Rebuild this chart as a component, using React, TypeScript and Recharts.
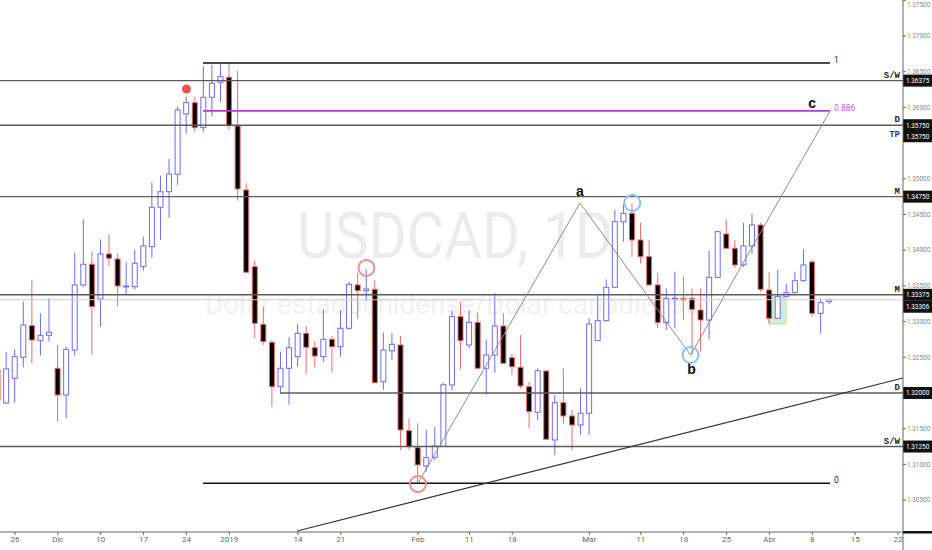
import React from "react";
import {
  ComposedChart,
  Bar,
  XAxis,
  YAxis,
  ReferenceLine,
  ReferenceDot,
  ReferenceArea,
} from "recharts";

// USDCAD daily candles, first candle sits two sessions before Nov 26 (index -2)
const FIRST_INDEX = -2;

const opens = [
  1.32322, 1.3186, 1.32206, 1.325, 1.32943, 1.32733, 1.32808, 1.32346, 1.31972, 1.32602,
  1.33513, 1.33803, 1.33317, 1.33947, 1.33877, 1.33489, 1.33489, 1.33769, 1.34049, 1.34601,
  1.34819, 1.35063, 1.35908, 1.36066, 1.35716, 1.36142, 1.36352, 1.36422, 1.3574, 1.34843,
  1.33769, 1.32962, 1.3271, 1.32088, 1.32346, 1.32508, 1.32836, 1.32634, 1.32508, 1.32752,
  1.32648, 1.32906, 1.33513, 1.33433, 1.33452, 1.32158, 1.32592, 1.32672, 1.31472, 1.31234,
  1.30978, 1.31099, 1.31253, 1.32112, 1.33069, 1.32672, 1.3299, 1.32346, 1.32532, 1.32938,
  1.32494, 1.3236, 1.32088, 1.3173, 1.32308, 1.31342, 1.31864, 1.31678, 1.31552, 1.31716,
  1.32733, 1.33013, 1.3348, 1.34399, 1.34517, 1.34143, 1.33909, 1.33513, 1.32985, 1.33317,
  1.33326, 1.33326, 1.33162, 1.33022, 1.3362, 1.34227, 1.34027, 1.33793, 1.34059, 1.34353,
  1.33443, 1.33046, 1.33349, 1.33405, 1.33573, 1.33835, 1.33116, 1.33279,
];
const highs = [
  1.3235, 1.32574, 1.32612, 1.33279, 1.33583, 1.33116, 1.33326, 1.32672, 1.32648, 1.33965,
  1.34433, 1.33979, 1.34153, 1.34227, 1.33947, 1.33831, 1.34003, 1.34189, 1.34951, 1.35043,
  1.35277, 1.3601, 1.3615, 1.3615, 1.3658, 1.36594, 1.36604, 1.36622, 1.36514, 1.34937,
  1.33863, 1.33209, 1.32742, 1.32578, 1.3278, 1.32966, 1.32938, 1.32719, 1.33172, 1.32798,
  1.33162, 1.33559, 1.33685, 1.33733, 1.33583, 1.32845, 1.32836, 1.32798, 1.31646, 1.31576,
  1.31482, 1.31528, 1.32144, 1.33153, 1.33279, 1.33162, 1.33125, 1.32742, 1.33396, 1.33116,
  1.32546, 1.32812, 1.32158, 1.32346, 1.32322, 1.31972, 1.32346, 1.31762, 1.32066, 1.33046,
  1.33373, 1.33592, 1.34563, 1.34647, 1.34657, 1.34385, 1.34143, 1.33685, 1.33466, 1.33699,
  1.33629, 1.33466, 1.33466, 1.33993, 1.34273, 1.34433, 1.34143, 1.34385, 1.34507, 1.34385,
  1.33685, 1.33723, 1.33527, 1.33699, 1.34013, 1.33863, 1.33326, 1.33326,
];
const lows = [
  1.3186, 1.31846, 1.31864, 1.3236, 1.32416, 1.32528, 1.32719, 1.31598, 1.31646, 1.32522,
  1.33485, 1.32532, 1.32929, 1.33779, 1.33219, 1.33373, 1.33452, 1.33713, 1.33895, 1.34143,
  1.34455, 1.34913, 1.35628, 1.3566, 1.35651, 1.3587, 1.3608, 1.35684, 1.34693, 1.3368,
  1.32766, 1.32672, 1.31808, 1.31996, 1.31832, 1.32368, 1.32266, 1.3236, 1.32438, 1.32284,
  1.32508, 1.32882, 1.33046, 1.33293, 1.32133, 1.32042, 1.32462, 1.31202, 1.31202, 1.30735,
  1.30898, 1.31062, 1.31244, 1.32042, 1.32332, 1.32626, 1.32336, 1.31972, 1.32284, 1.32406,
  1.32252, 1.32066, 1.31506, 1.31622, 1.31342, 1.31132, 1.31562, 1.31192, 1.31412, 1.31412,
  1.32733, 1.32999, 1.33471, 1.34119, 1.33909, 1.33817, 1.33513, 1.32906, 1.32882, 1.32906,
  1.33022, 1.32532, 1.32578, 1.32752, 1.33606, 1.34027, 1.33747, 1.33761, 1.33947, 1.33419,
  1.32976, 1.33046, 1.33349, 1.33396, 1.33559, 1.33069, 1.32836, 1.33247,
];
const closes = [
  1.31902, 1.32336, 1.32508, 1.32952, 1.32742, 1.32808, 1.3285, 1.31972, 1.32612, 1.33513,
  1.33803, 1.33209, 1.33947, 1.33887, 1.33499, 1.33499, 1.33817, 1.34059, 1.34601, 1.34819,
  1.35067, 1.35964, 1.36066, 1.35716, 1.36142, 1.36338, 1.3643, 1.35744, 1.34857, 1.33691,
  1.32976, 1.32719, 1.32088, 1.32346, 1.32634, 1.32836, 1.3264, 1.32518, 1.32752, 1.32648,
  1.32906, 1.33522, 1.33433, 1.33457, 1.32144, 1.32602, 1.32682, 1.31482, 1.31248, 1.30992,
  1.31094, 1.31258, 1.32116, 1.33069, 1.32733, 1.3299, 1.32346, 1.32532, 1.32938, 1.32416,
  1.32368, 1.32098, 1.31738, 1.32312, 1.31352, 1.31864, 1.31678, 1.31552, 1.31716, 1.32966,
  1.33013, 1.3348, 1.34399, 1.34517, 1.34143, 1.33909, 1.33513, 1.32985, 1.33326, 1.33326,
  1.33303, 1.33172, 1.33022, 1.3362, 1.34259, 1.34027, 1.33793, 1.34059, 1.34353, 1.33452,
  1.33046, 1.33349, 1.33405, 1.33573, 1.33793, 1.33116, 1.33265, 1.33306,
];

// time axis (session index -> label)
const dayTicks = [0, 5, 10, 15, 20, 25, 33, 38, 47, 53, 58, 67, 73, 78, 83, 88, 93, 98, 103];
const dayLabels = ["26", "Dic", "10", "17", "24", "2019", "14", "21", "Feb", "11", "18", "Mar", "11", "18", "25", "Abr", "8", "15", "22"];
const priceTicks = [1.305, 1.31, 1.315, 1.325, 1.33, 1.335, 1.34, 1.345, 1.35, 1.36, 1.365, 1.37, 1.375];

// drawn levels
const fullLevels = [1.36375, 1.3575, 1.3475, 1.33375, 1.3125];
const fullTags = ["S/W", "D", "M", "M", "S/W"];
const lastPrice = 1.33306;
const dLowPrice = 1.32;
const dLowFrom = 30.9;

// fib tool (0 / 0.886 / 1)
const fibFrom = 21.93;
const fibTo = 95.07;
const fibPrices = [1.36622, 1.35951, 1.30735];
const fibNames = ["1", "0.886", "0"];

// a-b-c zigzag
const swingIdx = [47, 65.9, 78.8, 95.07];
const swingPrice = [1.30735, 1.34661, 1.32532, 1.35951];
const swingNames = ["", "a", "b", "c"];

// rising trendline
const trendIdx = [32.9, 103.58];
const trendPrice = [1.30067, 1.3221];

// circles
const circleIdx = [41, 47, 72, 78.8];
const circlePrice = [1.33751, 1.30725, 1.34661, 1.32532];
const circleColor = ["#f28b8b", "#f28b8b", "#84c5f0", "#84c5f0"];
const dotIdx = 20;
const dotPrice = 1.36258;

// green box
const boxIdx = [87.87, 89.93];
const boxPrice = [1.32966, 1.33345];

const X_DOMAIN = [-1.75, 103.58];
const Y_DOMAIN = [1.30053, 1.37504];

const candles = opens.map((open, k) => ({
  i: FIRST_INDEX + k,
  open,
  high: highs[k],
  low: lows[k],
  close: closes[k],
}));

const BULL = "#6c6cf0";
const BEAR = "#ef6b6b";
const SANS = "Roboto, sans-serif";
const MONO = "'Liberation Mono', monospace";

const Candle = (props: any) => {
  const { x, y, width, height, payload } = props;
  if (x == null || payload == null) return null;
  const { open, close, high, low } = payload;
  const top = Math.min(y, y + height);
  const h = Math.abs(height);
  const span = high - low;
  const py = (p: number) => (span > 0 ? top + ((high - p) / span) * h : top);
  const up = close >= open;
  const col = up ? BULL : BEAR;
  const cx = x + width / 2;
  const bTop = py(Math.max(open, close));
  const bBot = py(Math.min(open, close));
  return (
    <g>
      <line x1={cx} x2={cx} y1={top} y2={top + h} stroke={col} strokeWidth={1} />
      <rect
        x={cx - 2.5}
        y={bTop}
        width={5}
        height={Math.max(bBot - bTop, 1)}
        fill={up ? "#ffffff" : "#000000"}
        stroke={col}
        strokeWidth={1}
      />
    </g>
  );
};

// right axis price text, small so it fits the narrow scale
const PriceTick = (props: any) => {
  const { x, y, payload } = props;
  // keep the top label inside the page like the original
  const base = Math.max(y + 2.3, 6.5);
  return (
    <text x={x - 1} y={base} fontSize={6.4} fill="#888" fontFamily={SANS}>
      {Number(payload.value).toFixed(5)}
    </text>
  );
};

const priceTag = (text: string, shift: number, tag?: string, tagColor = "#222", tagBelow = false) => (p: any) => {
  const { x, y, width } = p.viewBox;
  const r = x + width;
  const cy = y + shift;
  return (
    <g>
      {tag && (
        <text
          x={r - 3}
          y={tagBelow ? y + 12 : y - 3}
          textAnchor="end"
          fontSize={9}
          fontWeight="bold"
          fontFamily={MONO}
          fill={tagColor}
        >
          {tag}
        </text>
      )}
      <rect x={r} y={cy - 6} width={29} height={12} fill="#111111" />
      <text x={r + 3} y={cy + 2.4} fontSize={6.4} fill="#ffffff" fontFamily={SANS}>
        {text}
      </text>
    </g>
  );
};

const endText = (text: string, color: string) => (p: any) => {
  const { x, y, width } = p.viewBox;
  return (
    <text x={x + width + 4} y={y} fontSize={8.5} fill={color} fontFamily={SANS}>
      {text}
    </text>
  );
};

const swingLabel = (name: string, k: number) => (p: any) => {
  const { x, y } = p.viewBox;
  const dx = k === 3 ? -18 : k === 2 ? 1 : 0;
  const dy = k === 1 ? -7 : k === 2 ? 19 : -3;
  return (
    <text x={x + dx} y={y + dy} textAnchor="middle" fontSize={14} fontWeight="bold" fill="#111" fontFamily="'Liberation Sans', Arial, sans-serif">
      {name}
    </text>
  );
};

export default function App() {
  return (
    <div style={{ position: "absolute", left: 0, top: 0, width: 932, height: 550, background: "#ffffff" }}>
      {/* watermark */}
      <svg width={932} height={550} style={{ position: "absolute", left: 0, top: 0 }}>
        <text x={297} y={258} fontSize={64} fill="#ececef" fontFamily={SANS} textLength={316} lengthAdjust="spacingAndGlyphs">
          USDCAD, 1D
        </text>
        <text x={205} y={314} fontSize={29} fill="#f1f1f2" fontFamily={SANS} textLength={495} lengthAdjust="spacingAndGlyphs">
          Dólar estadounidense/Dólar canadiense
        </text>
        <line x1={903} x2={903} y1={532} y2={550} stroke="#666" />
        <rect x={903} y={531} width={29} height={2.5} fill="#111" />
      </svg>
      <div style={{ position: "absolute", left: 0, top: 0 }}>
        <ComposedChart width={932} height={550} data={candles} margin={{ top: 0, right: 0, bottom: 0, left: 0 }}>
          <XAxis
            type="number"
            dataKey="i"
            domain={X_DOMAIN}
            allowDataOverflow
            ticks={dayTicks}
            tickFormatter={(v: number) => dayLabels[dayTicks.indexOf(v)] ?? ""}
            interval={0}
            height={18}
            tickSize={3}
            tickMargin={1}
            axisLine={{ stroke: "#666" }}
            tickLine={{ stroke: "#666" }}
            tick={{ fontSize: 8, fill: "#666", fontFamily: SANS }}
          />
          <YAxis
            orientation="right"
            type="number"
            domain={Y_DOMAIN}
            allowDataOverflow
            ticks={priceTicks}
            interval={0}
            width={29}
            tickSize={3}
            tickMargin={2}
            axisLine={{ stroke: "#666" }}
            tickLine={{ stroke: "#666" }}
            tick={<PriceTick />}
          />

          <ReferenceArea
            x1={boxIdx[0]}
            x2={boxIdx[1]}
            y1={boxPrice[0]}
            y2={boxPrice[1]}
            fill="#cfeccf"
            fillOpacity={0.9}
            stroke="#b6e0b6"
          />

          {fullLevels.map((p, k) => (
            <ReferenceLine
              key={`lvl-${k}`}
              y={p}
              stroke="#5c5c5c"
              strokeWidth={1.4}
              label={priceTag(p.toFixed(5), 0, fullTags[k])}
            />
          ))}
          <ReferenceLine y={fullLevels[1]} strokeOpacity={0} label={priceTag(fullLevels[1].toFixed(5), 11, "TP", "#2b2bd6", true)} />
          <ReferenceLine y={lastPrice} stroke="#cfcfcf" strokeWidth={1.2} label={priceTag(lastPrice.toFixed(5), 7)} />
          <ReferenceLine
            segment={[{ x: dLowFrom, y: dLowPrice }, { x: X_DOMAIN[1], y: dLowPrice }]}
            stroke="#5c5c5c"
            strokeWidth={1.4}
            ifOverflow="visible"
            label={priceTag(dLowPrice.toFixed(5), 0, "D")}
          />

          {fibPrices.map((p, k) => (
            <ReferenceLine
              key={`fib-${k}`}
              segment={[{ x: fibFrom, y: p }, { x: fibTo, y: p }]}
              stroke={k === 1 ? "#b43ad8" : "#111111"}
              strokeWidth={1.6}
              ifOverflow="visible"
              label={endText(fibNames[k], k === 1 ? "#b562e6" : "#222")}
            />
          ))}

          <ReferenceLine
            segment={[{ x: trendIdx[0], y: trendPrice[0] }, { x: trendIdx[1], y: trendPrice[1] }]}
            stroke="#333"
            strokeWidth={1.2}
            ifOverflow="visible"
          />

          <Bar
            dataKey={(d: any) => [d.low, d.high]}
            barSize={6}
            shape={<Candle />}
            isAnimationActive={false}
          />

          {swingIdx.slice(1).map((xi, k) => (
            <ReferenceLine
              key={`zz-${k}`}
              segment={[
                { x: swingIdx[k], y: swingPrice[k] },
                { x: xi, y: swingPrice[k + 1] },
              ]}
              stroke="#8c8c8c"
              strokeWidth={1}
              ifOverflow="visible"
            />
          ))}
          {swingNames.map((n, k) =>
            n ? (
              <ReferenceDot
                key={`sw-${k}`}
                x={swingIdx[k]}
                y={swingPrice[k]}
                r={0}
                fill="none"
                stroke="none"
                ifOverflow="visible"
                label={swingLabel(n, k)}
              />
            ) : null
          )}

          {circleIdx.map((xi, k) => (
            <ReferenceDot
              key={`c-${k}`}
              x={xi}
              y={circlePrice[k]}
              r={8}
              fill="none"
              stroke={circleColor[k]}
              strokeWidth={2}
              ifOverflow="visible"
            />
          ))}
          <ReferenceDot x={dotIdx} y={dotPrice} r={4.5} fill="#ef5350" stroke="none" ifOverflow="visible" />
        </ComposedChart>
      </div>
    </div>
  );
}
